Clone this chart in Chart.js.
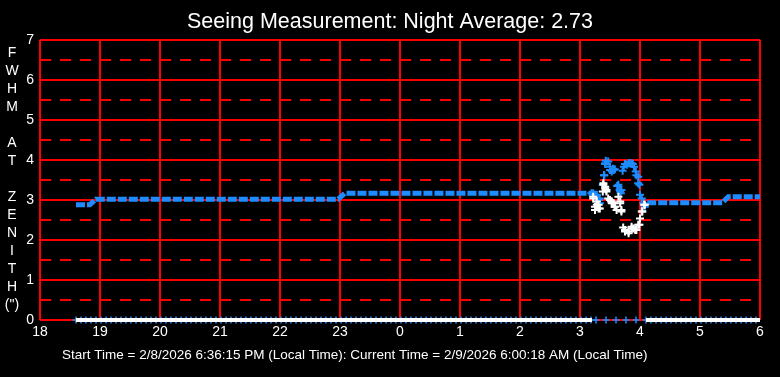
<!DOCTYPE html>
<html>
<head>
<meta charset="utf-8">
<script src="https://cdn.jsdelivr.net/npm/chart.js@4.4.1/dist/chart.umd.min.js"></script>
<style>
  html, body { margin: 0; padding: 0; background: #000; }
  #wrap { width: 780px; height: 377px; }
</style>
</head>
<body>
<div id="wrap"><canvas id="seeing" width="780" height="377"></canvas></div>
<script>
// Seeing chart - time is hours from 18:00 (24 = midnight, 30 = 6 AM)
const chartTitle = 'Seeing Measurement: Night Average: 2.73';
const footerText = 'Start Time = 2/8/2026 6:36:15 PM (Local Time): Current Time = 2/9/2026 6:00:18 AM (Local Time)';
const axisLetters = ['F', 'W', 'H', 'M', '', 'A', 'T', '', 'Z', 'E', 'N', 'I', 'T', 'H', '(")'];
const hourLabels = ['18', '19', '20', '21', '22', '23', '0', '1', '2', '3', '4', '5', '6'];
const yLabels = ['0', '1', '2', '3', '4', '5', '6', '7'];
const halfLines = [0.5, 1.5, 2.5, 3.5, 4.5, 5.5, 6.5];

// steady part of the blue series (null = gap)
const blueStepTimes = [18.6, 18.83, 18.93, 22.97, 23.08, 27.22, null, 28.12, 29.37, 29.47, 30.0];
const blueStepValues = [2.88, 2.88, 3.02, 3.02, 3.17, 3.17, null, 2.93, 2.93, 3.08, 3.08];

// scattered blue points between 3:10 and 4:10
const blueTimes = [27.19, 27.22, 27.25, 27.28, 27.31, 27.33, 27.33, 27.38, 27.40, 27.405, 27.42, 27.42, 27.43, 27.47,
    27.50, 27.50, 27.53, 27.55, 27.56, 27.58, 27.62, 27.64, 27.66, 27.67, 27.68, 27.69, 27.71, 27.73, 27.75, 27.78,
    27.81, 27.83, 27.86, 27.88, 27.90, 27.93, 27.94, 27.97, 27.97, 27.99, 28.00, 28.03, 28.06, 28.08];
const blueValues = [3.17, 3.17, 3.13, 3.13, 3.00, 3.04, 2.92, 3.38, 3.62, 3.62, 3.90, 3.92, 3.98, 3.96,
    3.83, 3.75, 3.71, 3.78, 3.75, 3.77, 3.35, 3.38, 3.25, 3.21, 3.17, 3.25, 3.73, 3.83, 3.90, 3.88,
    3.92, 3.92, 3.92, 3.90, 3.83, 3.71, 3.62, 3.58, 3.42, 3.38, 3.13, 3.04, 2.92, 2.83];

// white points in the same window
const whiteTimes = [27.22, 27.22, 27.25, 27.25, 27.28, 27.28, 27.31, 27.31, 27.33, 27.38, 27.39, 27.39, 27.42, 27.42,
    27.44, 27.44, 27.47, 27.50, 27.53, 27.53, 27.56, 27.58, 27.58, 27.61, 27.64, 27.67, 27.67, 27.69, 27.69,
    27.72, 27.75, 27.75, 27.81, 27.81, 27.86, 27.86, 27.89, 27.92, 27.94, 27.97, 27.99, 28.00, 28.03, 28.04, 28.07, 28.08];
const whiteValues = [3.04, 3.08, 2.83, 2.75, 2.96, 2.88, 2.88, 2.79, 2.79, 3.21, 3.38, 3.42, 3.33, 3.29,
    3.25, 3.21, 3.04, 3.00, 2.96, 2.92, 2.92, 2.83, 2.83, 2.75, 3.08, 2.96, 2.92, 2.71, 2.75,
    2.31, 2.21, 2.25, 2.17, 2.21, 2.33, 2.29, 2.29, 2.25, 2.25, 2.38, 2.38, 2.54, 2.71, 2.71, 2.88, 2.88];

// white band at zero outside that window
const whiteZeroTimes = [18.6, 27.2, null, 28.1, 30.0];
const whiteZeroValues = [0, 0, null, 0, 0];

// blue markers sitting on zero: every 5 minutes, every 10 inside the window
const zeroMarks = [];
for (let m = 36; m <= 720; ) {
    const t = 18 + m / 60;
    zeroMarks.push({ x: t, y: 0 });
    m += (t > 27.2 && t < 28.1) ? 10 : 5;
}

const BLUE = '#1e8cff';
const RED = '#ff0000';
const FONT = 'Liberation Sans, Arial, sans-serif';

function pairs(xs, ys) {
    return xs.map((x, i) => (x === null ? { x: null, y: null } : { x: x, y: ys[i] }));
}

// vertical axis caption and the footer line
const extraText = {
    id: 'extraText',
    afterDraw(chart) {
        const ctx = chart.ctx;
        ctx.save();
        ctx.fillStyle = '#fff';
        ctx.font = '14px ' + FONT;
        ctx.textAlign = 'center';
        ctx.textBaseline = 'middle';
        axisLetters.forEach((ch, i) => {
            if (ch) ctx.fillText(ch, 12, 53 + i * 18);
        });
        ctx.font = '13.5px ' + FONT;
        ctx.textAlign = 'left';
        ctx.fillText(footerText, 62, 355);
        ctx.restore();
    }
};

const crossPoint = {
    showLine: false,
    clip: false,
    pointStyle: 'cross',
    pointRadius: 4,
    pointHoverRadius: 4,
    pointBorderWidth: 2
};

new Chart(document.getElementById('seeing'), {
    type: 'line',
    data: {
        datasets: [
            Object.assign({}, crossPoint, {
                label: 'white',
                data: pairs(whiteTimes, whiteValues),
                pointBorderColor: '#fff',
                order: 1
            }),
            Object.assign({}, crossPoint, {
                label: 'blue',
                data: pairs(blueTimes, blueValues),
                pointBorderColor: BLUE,
                order: 2
            }),
            {
                label: 'blue steady',
                data: pairs(blueStepTimes, blueStepValues),
                borderColor: BLUE,
                borderWidth: 5,
                borderDash: [9, 2],
                pointRadius: 0,
                spanGaps: false,
                clip: false,
                order: 3
            },
            {
                label: 'white zero',
                data: pairs(whiteZeroTimes, whiteZeroValues),
                borderColor: '#fff',
                borderWidth: 4,
                pointRadius: 0,
                spanGaps: false,
                clip: false,
                order: 4
            },
            Object.assign({}, crossPoint, {
                label: 'zero marks',
                data: zeroMarks,
                pointBorderColor: BLUE,
                pointRadius: 3.5,
                pointBorderWidth: 1.5,
                order: 5
            })
        ]
    },
    options: {
        responsive: false,
        animation: false,
        layout: { padding: 0 },
        plugins: {
            legend: { display: false },
            tooltip: { enabled: false },
            title: {
                display: true,
                text: chartTitle,
                color: '#fff',
                font: { family: FONT, size: 21.5, weight: 'normal' },
                padding: { top: 9, bottom: 5.2 }
            }
        },
        scales: {
            x: {
                type: 'linear',
                min: 18,
                max: 30,
                ticks: {
                    stepSize: 1,
                    color: '#fff',
                    padding: 4,
                    maxRotation: 0,
                    font: { family: FONT, size: 14 },
                    callback: (v) => hourLabels[v - 18]
                },
                grid: { color: RED, lineWidth: 2, drawTicks: false },
                border: { display: false },
                afterFit: (scale) => { scale.height = 57; }
            },
            y: {
                min: 0,
                max: 7,
                ticks: {
                    stepSize: 1,
                    color: '#fff',
                    padding: 6,
                    font: { family: FONT, size: 14 },
                    callback: (v) => yLabels[v]
                },
                grid: { color: RED, lineWidth: 2, drawTicks: false },
                border: { display: false },
                afterFit: (scale) => { scale.width = 40; }
            },
            yHalf: {
                position: 'left',
                min: 0,
                max: 7,
                ticks: { display: false },
                afterBuildTicks: (scale) => { scale.ticks = halfLines.map(v => ({ value: v })); },
                grid: { color: RED, lineWidth: 2, drawTicks: false },
                border: { display: false, dash: [11, 9] },
                afterFit: (scale) => { scale.width = 0; }
            },
            // empty right-hand margin so the title stays centred on the whole canvas
            yRight: {
                position: 'right',
                min: 0,
                max: 7,
                ticks: { display: false },
                grid: { display: false },
                border: { display: false },
                afterFit: (scale) => { scale.width = 20; }
            }
        }
    },
    plugins: [extraText]
});
</script>
</body>
</html>
